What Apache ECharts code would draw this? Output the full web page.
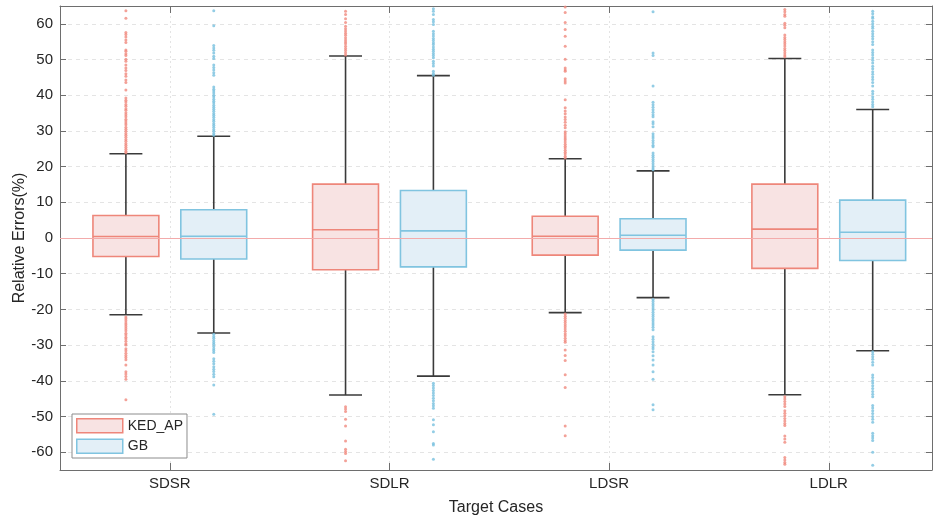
<!DOCTYPE html>
<html><head><meta charset="utf-8">
<script src="https://cdn.jsdelivr.net/npm/echarts@6/dist/echarts.min.js"></script>
<style>html,body{margin:0;padding:0;background:#fff}#c{width:933px;height:517px}</style>
</head><body><div id="c"></div>
<script>
// ---------- data ----------
const categories = ['SDSR', 'SDLR', 'LDSR', 'LDLR'];
const seriesNames = ['KED_AP', 'GB'];
const yTicks = [-60, -50, -40, -30, -20, -10, 0, 10, 20, 30, 40, 50, 60];

// [min whisker, Q1, median, Q3, max whisker] per category
const kedStats = [
  [-21.5, -5.2, 0.4, 6.3, 23.6],
  [-44.0, -8.9, 2.3, 15.1, 51.0],
  [-20.9, -4.8, 0.5, 6.1, 22.2],
  [-43.9, -8.5, 2.5, 15.1, 50.3]
];
const gbStats = [
  [-26.6, -5.9, 0.5, 7.9, 28.5],
  [-38.7, -8.1, 2.0, 13.3, 45.5],
  [-16.7, -3.4, 0.75, 5.4, 18.8],
  [-31.6, -6.3, 1.6, 10.6, 36.0]
];

// outliers per category
const kedOutSDSR = [63.7, 61.6, 57.6, 57.0, 56.3, 55.5, 54.8, 52.7, 52.3, 51.6, 51.1, 50.1, 49.5, 48.5, 47.6, 46.9, 46.0, 45.3, 44.3, 43.6, 41.5,
  39.2, 38.6, 38.1, 37.4, 36.9, 36.2, 35.8, 35.1, 34.5, 34.0, 33.3, 32.8, 32.2, 31.7, 31.0, 30.5, 29.9, 29.3, 28.8, 28.2, 27.6, 27.1, 26.5, 26.0, 25.4, 24.9, 24.3, 23.9,
  -22.1, -22.6, -23.2, -23.8, -24.3, -24.9, -25.4, -26.0, -26.7, -27.2, -27.8, -28.3, -28.9, -29.6, -30.0, -31.0, -31.6, -32.3, -32.9, -33.5, -34.1, -35.6, -37.5, -38.1, -38.8, -39.6, -45.3];
const kedOutSDLR = [63.5, 62.6, 61.4, 60.4, 59.3, 58.6, 58.0, 57.4, 56.8, 56.1, 55.5, 54.9, 54.4, 53.7, 53.1, 52.5, 51.9, 51.3,
  -47.3, -47.9, -48.6, -50.8, -52.7, -56.9, -59.2, -59.8, -60.4, -62.4];
const kedOutLDSR = [64.7, 63.2, 60.4, 58.4, 56.5, 53.7, 50.1, 47.6, 47.1, 46.7, 44.6, 44.0, 43.4, 38.7, 36.5, 35.6, 34.8, 33.9, 33.2, 32.4, 31.6, 30.9,
  29.8, 29.2, 28.6, 28.0, 27.5, 26.9, 26.3, 25.7, 25.2, 24.6, 24.0, 23.5, 22.9, 22.4,
  -21.3, -21.9, -22.5, -23.1, -23.7, -24.3, -24.9, -25.5, -26.1, -26.8, -27.4, -28.1, -28.7, -29.2, -31.4, -32.9, -34.3, -38.3, -41.9, -52.7, -55.4];
const kedOutLDLR = [64.0, 63.4, 62.6, 62.1, 60.2, 59.6, 58.9, 56.9, 56.2, 55.6, 55.0, 54.4, 53.8, 53.1, 52.5, 51.9, 51.3, 50.8,
  -44.5, -45.1, -45.8, -46.5, -47.2, -48.4, -49.1, -49.8, -50.6, -51.3, -52.0, -52.5, -55.5, -56.3, -57.2, -61.5, -62.2, -62.9, -63.4];

const gbOutSDSR = [63.7, 59.5, 53.9, 53.2, 52.6, 51.8, 50.9, 50.3, 48.5, 47.8, 47.1, 46.3, 45.6,
  42.3, 41.7, 41.2, 40.6, 40.0, 39.5, 38.9, 38.3, 37.8, 37.2, 36.6, 36.1, 35.5, 34.9, 34.4, 33.8, 33.2, 32.7, 32.1, 31.6, 31.0, 30.4, 29.9, 29.3, 28.8,
  -27.0, -27.6, -28.1, -28.7, -29.3, -29.8, -30.4, -31.0, -31.5, -32.1, -33.8, -34.5, -35.2, -36.1, -36.8, -37.4, -38.2, -38.9, -41.2, -49.4];
const gbOutSDLR = [64.2, 63.5, 62.6, 61.2, 60.6, 59.8, 57.9, 57.2, 56.6, 55.9, 55.3, 54.7, 54.2, 53.5, 52.9, 52.3, 51.7, 51.1, 50.5, 49.5, 48.9, 48.2, 46.7, 46.1, 45.6,
  -40.7, -41.3, -42.0, -42.7, -43.4, -44.1, -44.9, -45.6, -46.4, -47.0, -47.7, -50.9, -52.3, -54.3, -57.6, -58.0, -62.0];
const gbOutLDSR = [63.4, 51.8, 51.1, 42.6, 38.0, 37.3, 36.6, 35.9, 35.2, 34.5, 34.0, 32.6, 32.0, 31.2,
  29.2, 28.6, 28.0, 27.3, 26.7, 26.0, 25.6, 23.8, 23.2, 22.6, 22.0, 21.4, 20.8, 20.2, 19.6, 19.1,
  -17.2, -17.8, -18.4, -19.0, -19.6, -20.2, -20.8, -21.4, -22.0, -22.6, -23.2, -23.8, -24.4, -25.0, -25.7,
  -27.7, -28.4, -29.1, -29.8, -30.5, -31.0, -31.9, -33.0, -34.2, -35.6, -37.5, -39.6, -46.7, -48.1];
const gbOutLDLR = [63.5, 62.8, 62.0, 61.6, 60.7, 60.0, 59.3, 58.8, 57.9, 57.2, 56.5, 55.8, 55.0, 54.2, 52.7, 52.0, 51.3, 50.5, 49.8, 49.0,
  48.1, 47.4, 46.6, 45.9, 45.1, 44.4, 43.6, 42.6, 41.1, 40.4, 39.6, 38.9, 38.1, 37.4, 36.8,
  -31.9, -32.6, -33.3, -34.0, -34.8, -35.6, -38.4, -39.1, -39.9, -40.6, -41.4, -42.2, -43.0, -43.8, -44.5,
  -46.9, -47.6, -48.4, -49.2, -50.0, -50.8, -51.6, -54.7, -55.4, -56.0, -56.7, -60.0, -63.7];

const kedOutliers = [kedOutSDSR, kedOutSDLR, kedOutLDSR, kedOutLDLR];
const gbOutliers = [gbOutSDSR, gbOutSDLR, gbOutLDSR, gbOutLDLR];

// ---------- style / layout ----------
const KED_EDGE = '#EE867A', KED_FILL = '#F8E3E3', KED_DOT = '#F0897E';
const GB_EDGE = '#80C4E0', GB_FILL = '#E3EFF7', GB_DOT = '#78C0DE';
const WHISK = '#3a3a3a';
const OFFSET = 0.2, BOX_HALF = 0.15, CAP_HALF = 0.075;
const FONT = 'Liberation Sans, Arial, Helvetica, sans-serif';
const AXIS_COLOR = '#6e6e6e';
const tickPos = categories.map((c, i) => i + 1);

function boxData(stats, off) {
  return stats.map((s, i) => [i + 1 + off].concat(s));
}
function outData(lists, off) {
  const out = [];
  lists.forEach((l, i) => l.forEach(v => out.push([i + 1 + off, v])));
  return out;
}
function makeRender(edge, fill) {
  return function (params, api) {
    const x = api.value(0);
    const yMin = api.coord([x, api.value(1)])[1];
    const yQ1 = api.coord([x, api.value(2)])[1];
    const yMed = api.coord([x, api.value(3)])[1];
    const yQ3 = api.coord([x, api.value(4)])[1];
    const yMax = api.coord([x, api.value(5)])[1];
    const xc = api.coord([x, 0])[0];
    const xL = api.coord([x - BOX_HALF, 0])[0];
    const xR = api.coord([x + BOX_HALF, 0])[0];
    const cL = api.coord([x - CAP_HALF, 0])[0];
    const cR = api.coord([x + CAP_HALF, 0])[0];
    const wStyle = { stroke: WHISK, lineWidth: 1.6 };
    return {
      type: 'group',
      children: [
        { type: 'line', shape: { x1: xc, y1: yQ3, x2: xc, y2: yMax }, style: wStyle },
        { type: 'line', shape: { x1: xc, y1: yQ1, x2: xc, y2: yMin }, style: wStyle },
        { type: 'line', shape: { x1: cL, y1: yMax, x2: cR, y2: yMax }, style: wStyle },
        { type: 'line', shape: { x1: cL, y1: yMin, x2: cR, y2: yMin }, style: wStyle },
        { type: 'rect', shape: { x: xL, y: yQ3, width: xR - xL, height: yQ1 - yQ3 },
          style: { fill: fill, stroke: edge, lineWidth: 1.6 } },
        { type: 'line', shape: { x1: xL, y1: yMed, x2: xR, y2: yMed }, style: { stroke: edge, lineWidth: 1.6 } }
      ]
    };
  };
}

const chart = echarts.init(document.getElementById('c'), null, { renderer: 'canvas' });
const xBase = {
  type: 'value', min: 0.5, max: 4.47,
  axisLine: { show: true, onZero: false, lineStyle: { color: AXIS_COLOR, width: 1 } },
  axisTick: { show: true, inside: true, length: 7, customValues: tickPos, lineStyle: { color: AXIS_COLOR } },
};
const yBase = {
  type: 'value', min: -65, max: 65,
  axisLine: { show: true, onZero: false, lineStyle: { color: AXIS_COLOR, width: 1 } },
  axisTick: { show: true, inside: true, length: 6, customValues: yTicks, lineStyle: { color: AXIS_COLOR } },
};
chart.setOption({
  animation: false,
  backgroundColor: '#fff',
  grid: { left: 60, right: 1, top: 6, bottom: 47, containLabel: false, outerBoundsMode: 'none' },
  xAxis: [
    Object.assign({}, xBase, {
      position: 'bottom',
      axisLabel: { customValues: tickPos, formatter: v => categories[Math.round(v) - 1], color: '#262626', fontSize: 15, fontFamily: FONT, margin: 6 },
      splitLine: { show: true, lineStyle: { color: '#e4e4e4', type: [2, 3], width: 1 } },
      name: 'Target Cases', nameLocation: 'middle', nameGap: 30, nameMoveOverlap: false,
      nameTextStyle: { color: '#262626', fontSize: 16, fontFamily: FONT }
    }),
    Object.assign({}, xBase, { position: 'top', axisLabel: { show: false }, splitLine: { show: false } })
  ],
  yAxis: [
    Object.assign({}, yBase, {
      position: 'left',
      axisLabel: { customValues: yTicks, color: '#262626', fontSize: 15, fontFamily: FONT, margin: 7 },
      splitLine: { show: true, lineStyle: { color: '#e4e4e4', type: [4, 4], width: 1 } },
      name: 'Relative Errors(%)', nameLocation: 'middle', nameGap: 32, nameMoveOverlap: false,
      nameTextStyle: { color: '#262626', fontSize: 16, fontFamily: FONT }
    }),
    Object.assign({}, yBase, { position: 'right', axisLabel: { show: false }, splitLine: { show: false } })
  ],
  legend: {
    orient: 'vertical', left: 72, top: 414,
    itemWidth: 46, itemHeight: 14, itemGap: 5,
    padding: [4, 4, 4, 4],
    backgroundColor: '#fff', borderColor: '#8c8c8c', borderWidth: 1, borderRadius: 0,
    textStyle: { color: '#262626', fontSize: 14, fontFamily: FONT },
    icon: 'rect',
    data: [
      { name: seriesNames[0], itemStyle: { color: KED_FILL, borderColor: KED_EDGE, borderWidth: 1.5 } },
      { name: seriesNames[1], itemStyle: { color: GB_FILL, borderColor: GB_EDGE, borderWidth: 1.5 } }
    ]
  },
  series: [
    { name: seriesNames[0], type: 'custom', renderItem: makeRender(KED_EDGE, KED_FILL),
      data: boxData(kedStats, -OFFSET), encode: { x: 0, y: [1, 2, 3, 4, 5] }, z: 2, silent: true,
      itemStyle: { color: KED_FILL, borderColor: KED_EDGE } },
    { name: seriesNames[1], type: 'custom', renderItem: makeRender(GB_EDGE, GB_FILL),
      data: boxData(gbStats, OFFSET), encode: { x: 0, y: [1, 2, 3, 4, 5] }, z: 2, silent: true,
      itemStyle: { color: GB_FILL, borderColor: GB_EDGE } },
    { name: seriesNames[0], type: 'scatter', data: outData(kedOutliers, -OFFSET), symbolSize: 3,
      itemStyle: { color: KED_DOT }, z: 3, silent: true,
      markLine: { silent: true, symbol: ['none', 'none'], label: { show: false },
        lineStyle: { color: '#F3ABAB', width: 1, type: 'solid' }, data: [{ yAxis: 0 }] } },
    { name: seriesNames[1], type: 'scatter', data: outData(gbOutliers, OFFSET), symbolSize: 3,
      itemStyle: { color: GB_DOT }, z: 3, silent: true }
  ]
});
</script>
</body></html>
